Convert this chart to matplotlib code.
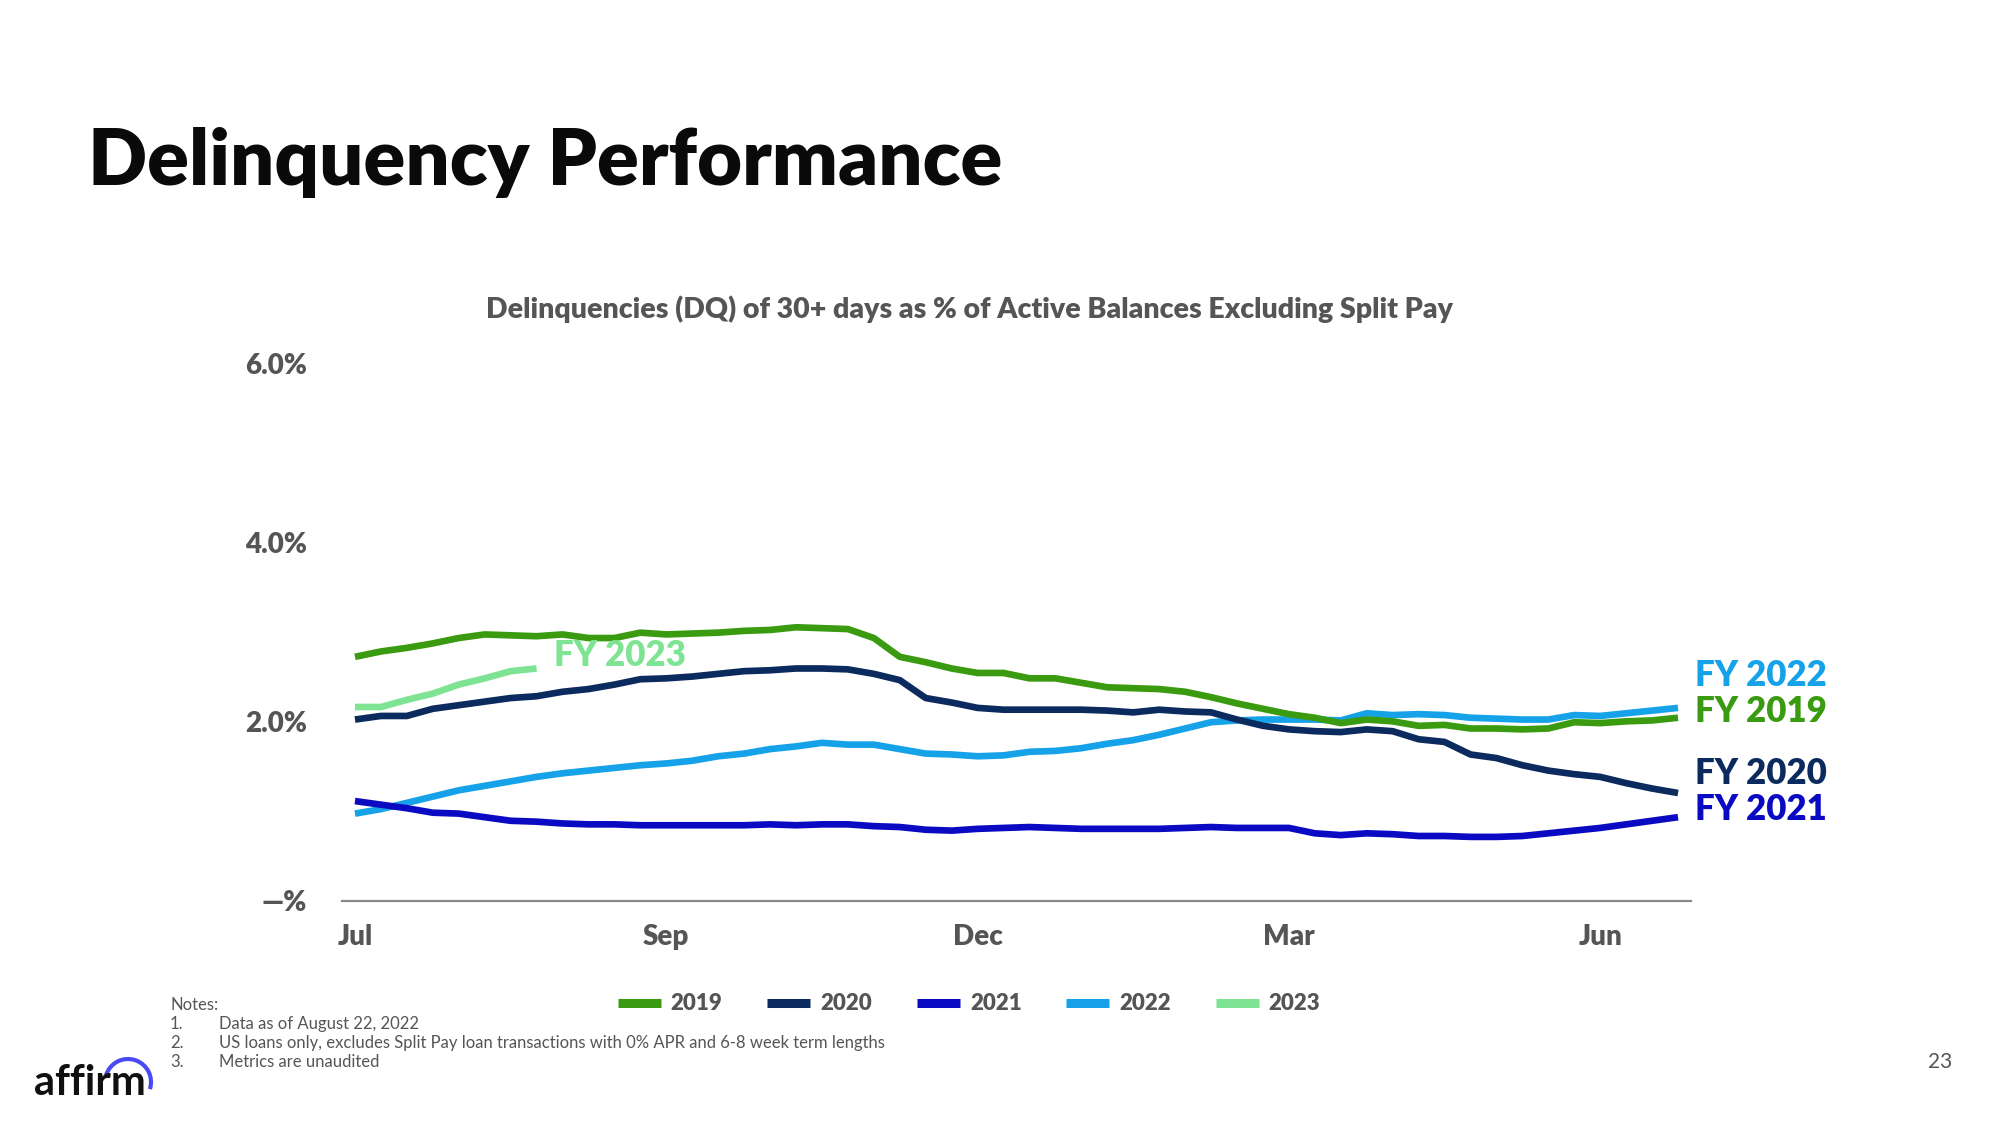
import matplotlib
matplotlib.use("Agg")
import matplotlib.pyplot as plt
from matplotlib.lines import Line2D
from matplotlib.patches import Arc

plt.rcParams['font.family'] = ['Lato', 'DejaVu Sans']

# ---------------- data ----------------
weeks = list(range(52))
tick_pos = [0, 12, 24, 36, 48]
tick_labels = ["Jul", "Sep", "Dec", "Mar", "Jun"]
y_ticks = [0, 2, 4, 6]
y_tick_labels = ["—%", "2.0%", "4.0%", "6.0%"]

fy2019 = [2.72, 2.78, 2.82, 2.87, 2.93, 2.97, 2.96, 2.95, 2.97, 2.93, 2.93, 2.99, 2.97,
          2.98, 2.99, 3.01, 3.02, 3.05, 3.04, 3.03, 2.93, 2.72, 2.66, 2.59, 2.54, 2.54,
          2.48,
          2.48, 2.43, 2.38, 2.37, 2.36, 2.33, 2.27, 2.20, 2.14, 2.08, 2.04, 1.98,
          2.02,
          2.00, 1.95, 1.96, 1.92, 1.92, 1.91, 1.92, 1.99, 1.98, 2.00, 2.01, 2.04]
fy2020 = [2.02, 2.06, 2.06, 2.14, 2.18, 2.22, 2.26, 2.28, 2.33, 2.36, 2.41, 2.47, 2.48,
          2.50, 2.53, 2.56, 2.57, 2.59, 2.59, 2.58, 2.53, 2.46, 2.26, 2.21, 2.15, 2.13,
          2.13,
          2.13, 2.13, 2.12, 2.10, 2.13, 2.11, 2.10, 2.02, 1.95, 1.91, 1.89, 1.88,
          1.91,
          1.89, 1.80, 1.77, 1.63, 1.59, 1.51, 1.45, 1.41, 1.38, 1.31, 1.25, 1.20]
fy2021 = [1.11, 1.07, 1.03, 0.98, 0.97, 0.93, 0.89, 0.88, 0.86, 0.85, 0.85, 0.84, 0.84,
          0.84, 0.84, 0.84, 0.85, 0.84, 0.85, 0.85, 0.83, 0.82, 0.79, 0.78, 0.80, 0.81,
          0.82,
          0.81, 0.80, 0.80, 0.80, 0.80, 0.81, 0.82, 0.81, 0.81, 0.81, 0.75, 0.73,
          0.75,
          0.74, 0.72, 0.72, 0.71, 0.71, 0.72, 0.75, 0.78, 0.81, 0.85, 0.89, 0.93]
fy2022 = [0.97, 1.02, 1.09, 1.16, 1.23, 1.28, 1.33, 1.38, 1.42, 1.45, 1.48, 1.51, 1.53,
          1.56, 1.61, 1.64, 1.69, 1.72, 1.76, 1.74, 1.74, 1.69, 1.64, 1.63, 1.61, 1.62,
          1.66,
          1.67, 1.70, 1.75, 1.79, 1.85, 1.92, 1.99, 2.01, 2.02, 2.02, 2.02, 2.01,
          2.09,
          2.07, 2.08, 2.07, 2.04, 2.03, 2.02, 2.02, 2.07, 2.06, 2.09, 2.12, 2.15]
fy2023 = [2.16, 2.16, 2.24, 2.31, 2.41, 2.48, 2.56, 2.59]

series_names = ["2019", "2020", "2021", "2022", "2023"]
series_vals = [fy2019, fy2020, fy2021, fy2022, fy2023]
colors = ["#3A9B10", "#0B2A5E", "#0A0AC2", "#16A2E8", "#7EE493"]
draw_order = [3, 2, 1, 0, 4]

notes = ["Data as of August 22, 2022",
         "US loans only, excludes Split Pay loan transactions with 0% APR and 6-8 week term lengths",
         "Metrics are unaudited"]

GRAY = "#555555"
W, H = 2000, 1125
HEAVY = "heavy"

def fx(px):
    return px / W

def fy(py):
    return 1 - py / H

fig = plt.figure(figsize=(20, 11.25), dpi=100)
fig.patch.set_facecolor("white")

ax = fig.add_axes([fx(342), fy(900.5), fx(1691) - fx(342), fy(363) - fy(900.5)])
for i in draw_order:
    vals = series_vals[i]
    ax.plot(weeks[:len(vals)], vals, color=colors[i], lw=4.8,
            solid_joinstyle="round", solid_capstyle="butt", zorder=3 + (i == 4))

ax.set_xlim(-0.5, 51.5)
ax.set_ylim(0, 6)
for s in ["top", "right", "left"]:
    ax.spines[s].set_visible(False)
ax.spines["bottom"].set_color("#8A8A8A")
ax.spines["bottom"].set_linewidth(1.6)
ax.set_xticks(tick_pos)
ax.set_xticklabels(tick_labels)
ax.set_yticks(y_ticks)
ax.set_yticklabels(y_tick_labels)
ax.tick_params(axis="both", length=0, labelcolor=GRAY, labelsize=20)
ax.tick_params(axis="x", pad=17)
ax.tick_params(axis="y", pad=25)
for lab in ax.get_xticklabels() + ax.get_yticklabels():
    lab.set_fontweight(HEAVY)

# end-of-line labels
end_labels = [("FY 2022", 676, colors[3]), ("FY 2019", 712, colors[0]),
              ("FY 2020", 773, colors[1]), ("FY 2021", 810, colors[2])]
for txt, ypx, c in end_labels:
    fig.text(fx(1695), fy(ypx), txt, color=c, fontsize=25, fontweight=HEAVY,
             ha="left", va="center")
fig.text(fx(554), fy(655), "FY 2023", color=colors[4], fontsize=25,
         fontweight=HEAVY, ha="left", va="center")

# titles
fig.text(fx(88), fy(185), "Delinquency Performance", fontsize=56, fontweight=HEAVY,
         color="#0A0A0A", ha="left", va="baseline")
fig.text(fx(969), fy(309), "Delinquencies (DQ) of 30+ days as % of Active Balances Excluding Split Pay",
         fontsize=20.5, fontweight=HEAVY, color=GRAY, ha="center", va="center")

# legend
handles = [Line2D([0], [0], color=c, lw=6.5, solid_capstyle="butt") for c in colors]
leg = fig.legend(handles, series_names, loc="center", bbox_to_anchor=(fx(969), fy(1004)),
                 ncol=5, frameon=False, handlelength=1.95, handletextpad=0.45,
                 columnspacing=2.0, prop={"weight": HEAVY, "size": 16})
for t in leg.get_texts():
    t.set_color(GRAY)

# notes
fig.text(fx(170), fy(1005), "Notes:", fontsize=12, color=GRAY, ha="left", va="center")
for k, n in enumerate(notes):
    ypx = 1024 + 19 * k
    fig.text(fx(170), fy(ypx), f"{k + 1}.", fontsize=12, color=GRAY, ha="left", va="center")
    fig.text(fx(219), fy(ypx), n, fontsize=12, color=GRAY, ha="left", va="center")

# page number
fig.text(fx(1940), fy(1062), "23", fontsize=15, color=GRAY, ha="center", va="center")

# logo
fig.text(fx(34), fy(1095), "affirm", fontsize=30, fontweight="bold", color="#101010",
         ha="left", va="baseline")
arc = Arc((fx(128), fy(1082)), 2 * 23 / W, 2 * 23 / H, theta1=-30, theta2=150,
          transform=fig.transFigure, color="#4A4AF4", lw=3.0)
fig.add_artist(arc)

fig.savefig("out.png", dpi=100, facecolor="white")
